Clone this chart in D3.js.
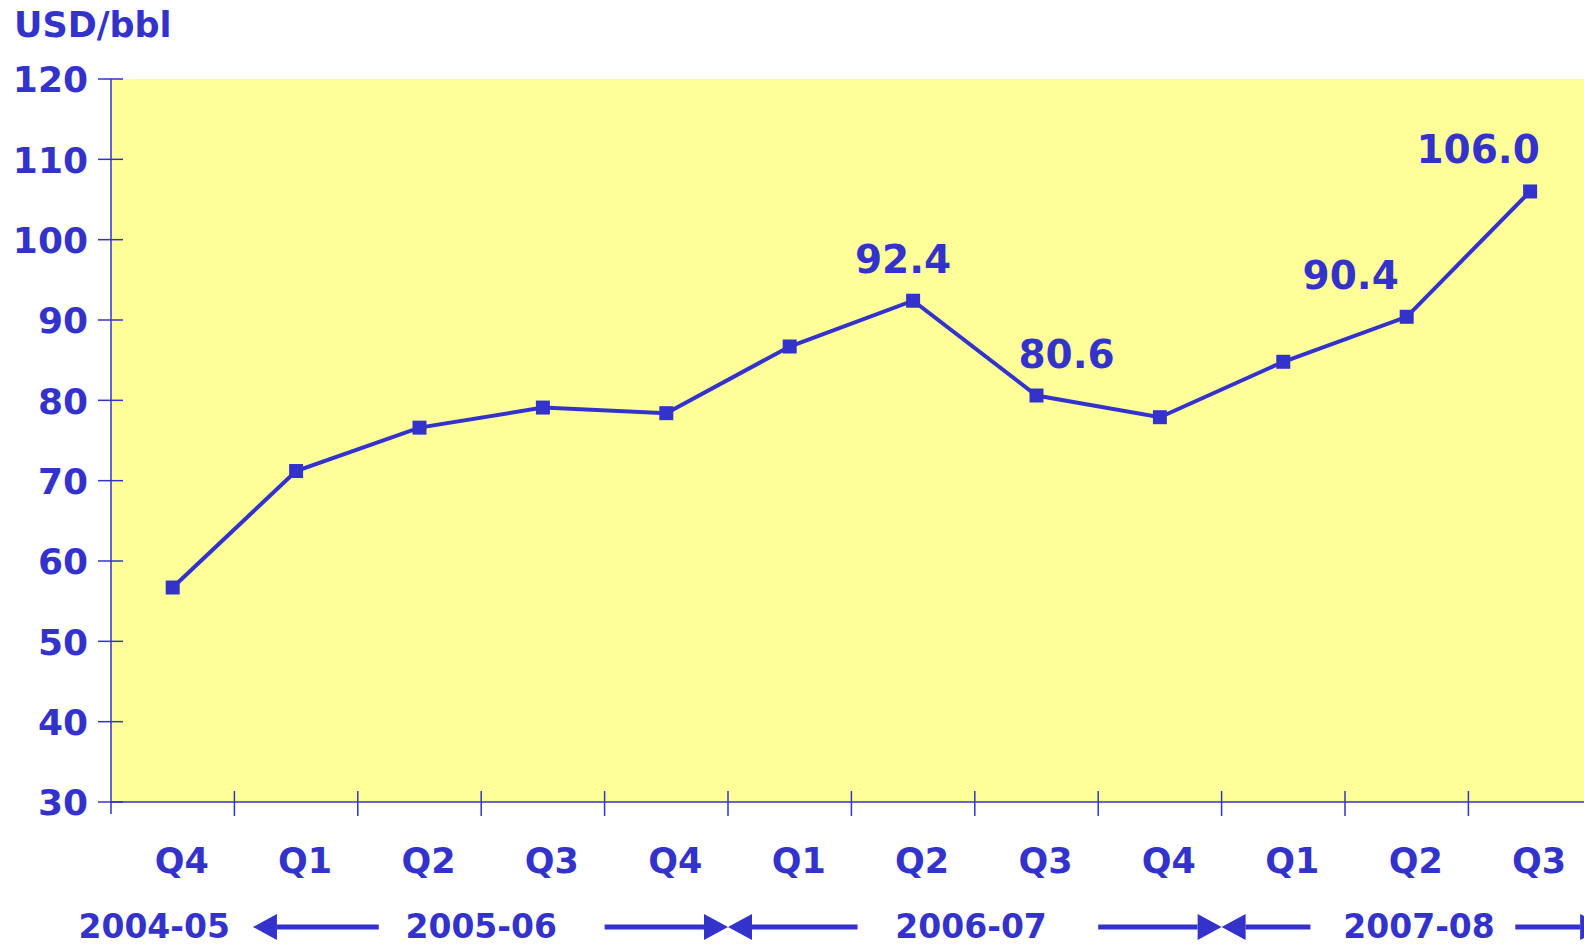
<!DOCTYPE html>
<html>
<head>
<meta charset="utf-8">
<script src="https://cdn.jsdelivr.net/npm/d3@7"></script>
<style>
  body { margin: 0; background: #ffffff; }
  svg text { font-family: "DejaVu Sans", Verdana, sans-serif; font-weight: bold; fill: #3333cc; }
</style>
</head>
<body>
<div id="chart"></div>
<script>
// data
var quarters = ["Q4", "Q1", "Q2", "Q3", "Q4", "Q1", "Q2", "Q3", "Q4", "Q1", "Q2", "Q3"];
var prices = [56.7, 71.2, 76.6, 79.1, 78.4, 86.7, 92.4, 80.6, 77.9, 84.8, 90.4, 106.0];
var y_ticks = [30, 40, 50, 60, 70, 80, 90, 100, 110, 120];
// labelled points: index, dx offset
var labelled = [[6, -10], [7, 30], [10, -56], [11, -52]];
// fiscal years: label, centre (in band units)
var years = [["2004-05", 0.35], ["2005-06", 3.0], ["2006-07", 6.97], ["2007-08", 10.6]];
// arrows: tip, tail (band units)
var arrows = [[1.15, 2.17], [5.0, 4.0], [5.0, 6.05], [9.0, 8.0], [9.0, 9.72], [12.1, 11.38]];

var width = 1584, height = 946;
var blue = "#3333cc";
var x0 = 111, x1 = 111 + 12 * 123.4;

var svg = d3.select("#chart").append("svg")
    .attr("width", width)
    .attr("height", height);

var x = d3.scaleBand().domain(d3.range(quarters.length)).range([x0, x1]).padding(0);
var y = d3.scaleLinear().domain([30, 120]).range([802, 79]);
var bw = x.bandwidth();
function bx(u) { return x0 + u * bw; }

// plot background
svg.append("rect")
    .attr("x", x0).attr("y", y(120))
    .attr("width", width - x0).attr("height", y(30) - y(120))
    .attr("fill", "#ffff99");

// y axis
svg.append("line")
    .attr("x1", x0).attr("x2", x0)
    .attr("y1", y(120)).attr("y2", y(30) + 12)
    .attr("stroke", blue).attr("stroke-width", 1.5);
var yt = svg.selectAll(".ytick").data(y_ticks).enter().append("g");
yt.append("line")
    .attr("x1", x0 - 13).attr("x2", x0 + 12)
    .attr("y1", function (d) { return y(d); })
    .attr("y2", function (d) { return y(d); })
    .attr("stroke", blue).attr("stroke-width", 1.5);
yt.append("text")
    .attr("x", 88)
    .attr("y", function (d) { return y(d); })
    .attr("dy", "0.37em")
    .attr("text-anchor", "end")
    .style("font-size", "36px")
    .text(function (d) { return d; });

// x axis
svg.append("line")
    .attr("x1", x0).attr("x2", width)
    .attr("y1", y(30)).attr("y2", y(30))
    .attr("stroke", blue).attr("stroke-width", 1.5);
svg.selectAll(".xtick").data(d3.range(1, quarters.length + 1)).enter().append("line")
    .attr("x1", function (d) { return bx(d); })
    .attr("x2", function (d) { return bx(d); })
    .attr("y1", y(30) - 11).attr("y2", y(30) + 14)
    .attr("stroke", blue).attr("stroke-width", 1.5);
svg.selectAll(".qlabel").data(quarters).enter().append("text")
    .attr("x", function (d, i) { return x(i) + bw / 2 + 9; })
    .attr("y", 873)
    .attr("text-anchor", "middle")
    .style("font-size", "35px")
    .text(function (d) { return d; });

// fiscal year labels
svg.selectAll(".ylabel").data(years).enter().append("text")
    .attr("x", function (d) { return bx(d[1]); })
    .attr("y", 938)
    .attr("text-anchor", "middle")
    .style("font-size", "33px")
    .text(function (d) { return d[0]; });

// arrows
var ay = 927;
arrows.forEach(function (a) {
    var tip = bx(a[0]), tail = bx(a[1]);
    var dir = tip > tail ? 1 : -1;
    var base = tip - dir * 24;
    svg.append("line")
        .attr("x1", tail).attr("x2", base)
        .attr("y1", ay).attr("y2", ay)
        .attr("stroke", blue).attr("stroke-width", 5);
    svg.append("path")
        .attr("d", "M" + tip + "," + ay + "L" + base + "," + (ay - 13) + "L" + base + "," + (ay + 13) + "Z")
        .attr("fill", blue);
});

// line
var line = d3.line()
    .x(function (d, i) { return x(i) + bw / 2; })
    .y(function (d) { return y(d); });
svg.append("path")
    .datum(prices)
    .attr("d", line)
    .attr("fill", "none")
    .attr("stroke", blue)
    .attr("stroke-width", 4);
svg.selectAll(".marker").data(prices).enter().append("rect")
    .attr("x", function (d, i) { return x(i) + bw / 2 - 7; })
    .attr("y", function (d) { return y(d) - 7; })
    .attr("width", 14).attr("height", 14)
    .attr("fill", blue);

// value labels
svg.selectAll(".vlabel").data(labelled).enter().append("text")
    .attr("x", function (d) { return x(d[0]) + bw / 2 + d[1]; })
    .attr("y", function (d) { return y(prices[d[0]]) - 28; })
    .attr("text-anchor", "middle")
    .style("font-size", "39px")
    .text(function (d) { return prices[d[0]].toFixed(1); });

// unit label
svg.append("text")
    .attr("x", 14).attr("y", 37)
    .style("font-size", "35px")
    .text("USD/bbl");
</script>
</body>
</html>
